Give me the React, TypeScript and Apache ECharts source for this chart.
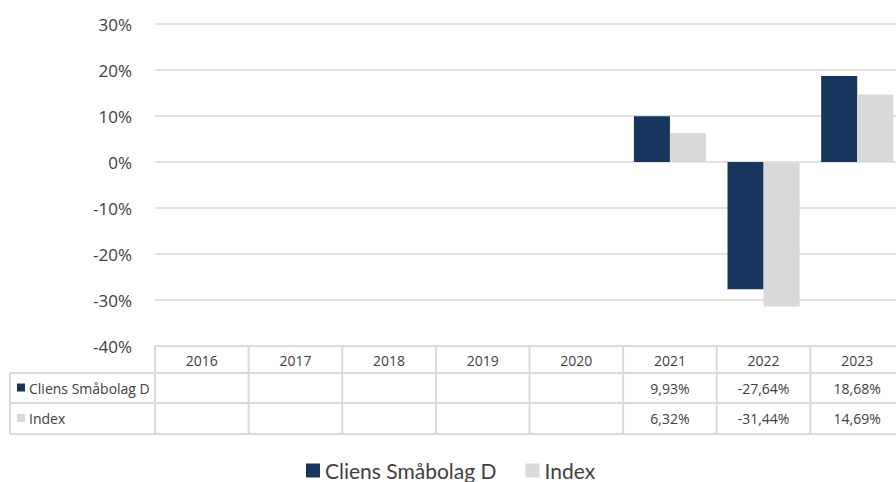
import React, { useEffect, useRef } from "react";
import * as echarts from "echarts";

const categories = ["2016", "2017", "2018", "2019", "2020", "2021", "2022", "2023"];
const seriesNames = ["Cliens Småbolag D", "Index"];
const fundValues: (number | null)[] = [null, null, null, null, null, 9.93, -27.64, 18.68];
const indexValues: (number | null)[] = [null, null, null, null, null, 6.32, -31.44, 14.69];
const colors = ["#17365d", "#d9d9d9"];

const fmt = (v: number | null) => (v === null ? "" : v.toFixed(2).replace(".", ",") + "%");

export default function App() {
  const ref = useRef<HTMLDivElement>(null);
  useEffect(() => {
    if (!ref.current) return;
    const chart = echarts.init(ref.current, null, { renderer: "svg" });
    const gridTop = 24;
    const gridBottomY = 346;
    const gridLeft = 155;
    chart.setOption({
      animation: false,
      grid: { left: gridLeft, right: 0, top: gridTop, bottom: 482 - gridBottomY },
      legend: {
        data: seriesNames,
        left: 306,
        top: 460,
        padding: 0,
        itemWidth: 14,
        itemHeight: 14,
        itemGap: 29,
        icon: "rect",
        textStyle: { fontFamily: "Lato", fontSize: 21, color: "#404040", lineHeight: 20 },
      },
      xAxis: {
        type: "category",
        data: categories,
        axisLine: { show: false },
        axisTick: { show: false },
        axisLabel: { show: false },
      },
      yAxis: {
        type: "value",
        min: -40,
        max: 30,
        interval: 10,
        axisLine: { show: false },
        axisTick: { show: false },
        axisLabel: {
          formatter: "{value}%",
          fontFamily: "Open Sans",
          fontSize: 17,
          color: "#404040",
          margin: 23,
        },
        splitLine: { lineStyle: { color: "#d9d9d9", width: 1.5 } },
      },
      series: [
        {
          name: seriesNames[0],
          type: "bar",
          data: fundValues,
          itemStyle: { color: colors[0] },
          barGap: "0%",
          barCategoryGap: "23%",
        },
        {
          name: seriesNames[1],
          type: "bar",
          data: indexValues,
          itemStyle: { color: colors[1] },
        },
      ],
    });

    const c0 = chart.convertToPixel({ xAxisIndex: 0 }, 0) as number;
    const c1 = chart.convertToPixel({ xAxisIndex: 0 }, 1) as number;
    const bw = c1 - c0;
    const bounds = categories.map((_, i) => c0 - bw / 2 + i * bw);
    const rightEdge = c0 - bw / 2 + categories.length * bw;
    const tableLeft = 10;
    const rowY = [gridBottomY, 373, 403, 434];
    const lineStyle = { stroke: "#d9d9d9", lineWidth: 2 };
    const textColor = "#404040";
    const font = "14px 'Open Sans'";
    const els: any[] = [];
    els.push({ type: "line", shape: { x1: gridLeft, y1: rowY[0], x2: rightEdge, y2: rowY[0] }, style: lineStyle });
    for (let r = 1; r < rowY.length; r++) {
      els.push({ type: "line", shape: { x1: tableLeft, y1: rowY[r], x2: rightEdge, y2: rowY[r] }, style: lineStyle });
    }
    els.push({ type: "line", shape: { x1: tableLeft, y1: rowY[1], x2: tableLeft, y2: rowY[3] }, style: lineStyle });
    bounds.forEach((x) => {
      els.push({ type: "line", shape: { x1: x, y1: rowY[0], x2: x, y2: rowY[3] }, style: lineStyle });
    });
    els.push({ type: "line", shape: { x1: rightEdge, y1: rowY[0], x2: rightEdge, y2: rowY[3] }, style: lineStyle });
    categories.forEach((cat, i) => {
      els.push({
        type: "text",
        x: bounds[i] + bw / 2,
        y: (rowY[0] + rowY[1]) / 2 + 1,
        style: { text: cat, fill: textColor, font, align: "center", verticalAlign: "middle" },
      });
    });
    const rows = [fundValues, indexValues];
    rows.forEach((vals, r) => {
      const yMid = (rowY[r + 1] + rowY[r + 2]) / 2;
      els.push({
        type: "rect",
        shape: { x: 17, y: yMid - 4.5, width: 8, height: 8 },
        style: { fill: colors[r] },
      });
      els.push({
        type: "text",
        x: 29,
        y: yMid,
        style: { text: seriesNames[r], fill: textColor, font, align: "left", verticalAlign: "middle" },
      });
      vals.forEach((v, i) => {
        if (v === null) return;
        els.push({
          type: "text",
          x: bounds[i] + bw / 2,
          y: yMid,
          style: { text: fmt(v), fill: textColor, font, align: "center", verticalAlign: "middle" },
        });
      });
    });
    chart.setOption({ graphic: els });
    return () => chart.dispose();
  }, []);
  return (
    <div style={{ position: "fixed", left: 0, top: 0, width: 896, height: 482, background: "#fff", overflow: "hidden" }}>
      <div ref={ref} style={{ width: 904, height: 482 }} />
    </div>
  );
}
